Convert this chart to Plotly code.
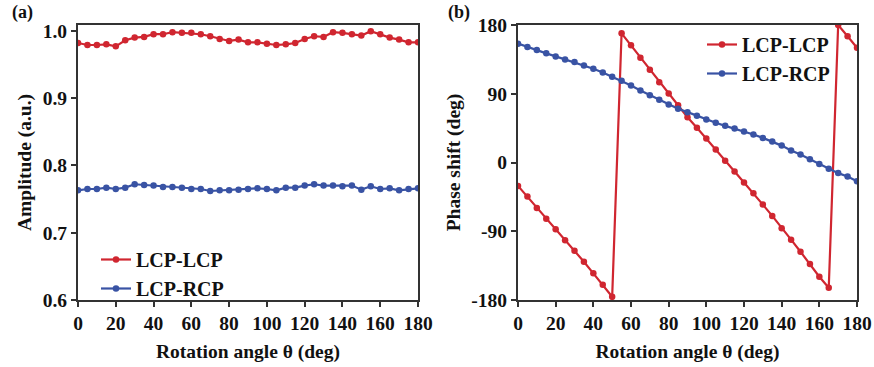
import plotly.graph_objects as go

angles = list(range(0, 181, 5))

amp_lcp_lcp = [0.982, 0.979, 0.979, 0.980, 0.977, 0.986, 0.990, 0.991, 0.995, 0.995,
               0.998, 0.997, 0.997, 0.995, 0.992, 0.988, 0.985, 0.987, 0.983, 0.983,
               0.981, 0.979, 0.980, 0.982, 0.988, 0.992, 0.991, 0.998, 0.997, 0.995,
               0.993, 0.9995, 0.995, 0.990, 0.987, 0.983, 0.983]
amp_lcp_rcp = [0.763, 0.765, 0.765, 0.767, 0.765, 0.767, 0.772, 0.771, 0.770, 0.768,
               0.768, 0.767, 0.765, 0.765, 0.762, 0.763, 0.763, 0.764, 0.765, 0.766,
               0.765, 0.763, 0.767, 0.767, 0.770, 0.772, 0.770, 0.770, 0.769, 0.770,
               0.764, 0.769, 0.765, 0.766, 0.763, 0.765, 0.766]

ph_lcp_lcp = [-30.6, -44.6, -59.4, -73.5, -87.4, -101.8, -115.5, -129.9, -145.1, -160.0,
              -175.8, 169.1, 153.4, 137.2, 121.5, 105.2, 90.4, 75.0, 59.3, 45.4,
              31.4, 16.9, 2.4, -11.8, -26.2, -40.2, -55.1, -69.9, -86.1, -101.0,
              -116.8, -132.9, -149.6, -164.0, 180.0, 165.2, 150.3]
ph_lcp_rcp = [155.6, 151.1, 147.2, 142.9, 138.9, 135.0, 131.5, 127.1, 122.8, 117.9,
              112.3, 107.0, 100.9, 94.3, 88.2, 82.1, 76.0, 70.3, 65.9, 61.1,
              56.3, 52.0, 48.0, 44.5, 40.5, 36.6, 32.2, 27.4, 22.1, 15.8,
              10.6, 4.3, -2.0, -8.3, -13.9, -18.4, -24.4]

x_ticks = list(range(0, 181, 20))
amp_ticks = [0.6, 0.7, 0.8, 0.9, 1.0]
amp_labels = ["0.6", "0.7", "0.8", "0.9", "1.0"]
ph_ticks = [-180, -90, 0, 90, 180]
ph_labels = ["-180", "-90", "0", "90", "180"]

RED = "#d02630"
BLUE = "#3953a4"
AX = "#333333"
FONT = "Liberation Serif"

fig = go.Figure()

def add(x, y, color, name, xa, ya, legend):
    fig.add_trace(go.Scatter(
        x=x, y=y, mode="lines+markers", name=name,
        line=dict(color=color, width=2.2),
        marker=dict(color=color, size=6.5),
        xaxis=xa, yaxis=ya, legend=legend,
    ))

add(angles, amp_lcp_lcp, RED, "LCP-LCP", "x", "y", "legend")
add(angles, amp_lcp_rcp, BLUE, "LCP-RCP", "x", "y", "legend")
add(angles, ph_lcp_lcp, RED, "LCP-LCP", "x2", "y2", "legend2")
add(angles, ph_lcp_rcp, BLUE, "LCP-RCP", "x2", "y2", "legend2")

W, H = 874, 367
y0 = 1 - 300 / H
y1 = 1 - 25 / H

tickfont = dict(family=FONT, size=19.5, color="#111", weight="bold")
titlefont = dict(family=FONT, size=19.5, color="#111", weight="bold")

common_x = dict(
    range=[0, 180], tickvals=x_ticks, ticks="outside", ticklen=5, tickwidth=2,
    tickcolor=AX, showline=True, linecolor=AX, linewidth=2, mirror=True,
    showgrid=False, zeroline=False, tickfont=tickfont, automargin=False,
    title=dict(text="Rotation angle θ (deg)", font=titlefont, standoff=11),
)
common_y = dict(
    ticks="outside", ticklen=5, tickwidth=2, tickcolor=AX, showline=True,
    linecolor=AX, linewidth=2, mirror=True, showgrid=False, zeroline=False,
    tickfont=tickfont, automargin=False,
)

fig.update_layout(
    width=W, height=H,
    margin=dict(l=0, r=0, t=0, b=0),
    paper_bgcolor="white", plot_bgcolor="white",
    font=dict(family=FONT, color="#111"),
    xaxis=dict(domain=[78 / W, 418 / W], anchor="y", **common_x),
    yaxis=dict(domain=[y0, y1], anchor="x", range=[0.6, 1.0087],
               tickvals=amp_ticks, ticktext=amp_labels,
               title=dict(text="Amplitude (a.u.)", font=titlefont, standoff=6),
               **common_y),
    xaxis2=dict(domain=[518 / W, 857 / W], anchor="y2", **common_x),
    yaxis2=dict(domain=[y0, y1], anchor="x2", range=[-180, 180],
                tickvals=ph_ticks, ticktext=ph_labels,
                title=dict(text="Phase shift (deg)", font=titlefont, standoff=6),
                **common_y),
    legend=dict(x=96 / W, y=1 - 240 / H, xanchor="left", yanchor="top",
                bgcolor="rgba(0,0,0,0)", tracegroupgap=0,
                font=dict(family=FONT, size=20, color="#111", weight="bold")),
    legend2=dict(x=702 / W, y=1 - 25 / H, xanchor="left", yanchor="top",
                 bgcolor="rgba(0,0,0,0)", tracegroupgap=0,
                 font=dict(family=FONT, size=20, color="#111", weight="bold")),
    showlegend=True,
    annotations=[
        dict(text="(a)", x=10 / W, y=1 - 13 / H, xref="paper", yref="paper",
             xanchor="left", yanchor="middle", showarrow=False,
             font=dict(family=FONT, size=18, color="#111", weight="bold")),
        dict(text="(b)", x=446 / W, y=1 - 13 / H, xref="paper", yref="paper",
             xanchor="left", yanchor="middle", showarrow=False,
             font=dict(family=FONT, size=18, color="#111", weight="bold")),
    ],
)

fig.write_html("out.html", config={"displayModeBar": False},
               post_script="document.body.style.margin='0';document.body.style.padding='0';")
